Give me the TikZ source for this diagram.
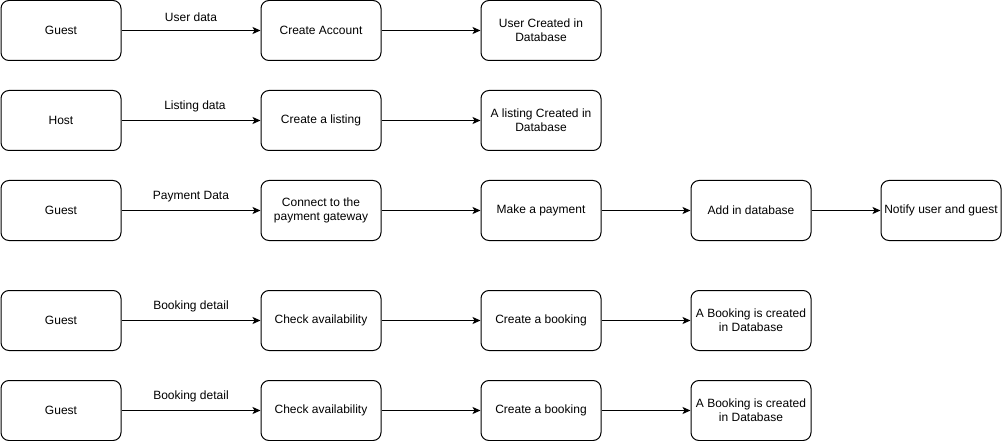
\documentclass[tikz,border=0pt]{standalone}
\usepackage{fontspec}
\setmainfont{Liberation Sans}
\usetikzlibrary{arrows.meta}
\begin{document}
\begin{tikzpicture}[x=1pt,y=-1pt,
  box/.style={draw,line width=1pt,rounded corners=8pt,minimum width=120pt,minimum height=60pt,inner sep=1pt,align=center,font=\fontsize{12}{14}\selectfont},
  arr/.style={line width=1pt,-{Stealth[length=8pt,width=7pt,inset=2pt]}},
  lab/.style={font=\fontsize{12}{14}\selectfont,inner sep=0pt}]
\useasboundingbox (0,0) rectangle (1002,441);
% row 1
\node[box] (g1) at (61,30.5) {Guest};
\node[box] (ca) at (321,30.5) {Create Account};
\node[box] (uc) at (541,30.5) {User Created in\\Database};
\draw[arr] (g1) -- node[lab,above=8pt] {User data} (ca);
\draw[arr] (ca) -- (uc);
% row 2
\node[box] (h2) at (61,120.5) {Host};
\node[box] (cl) at (321,120.5) {Create a listing};
\node[box] (lc) at (541,120.5) {A listing Created in\\Database};
\draw[arr] (h2) -- node[lab,above=8pt,xshift=4pt] {Listing data} (cl);
\draw[arr] (cl) -- (lc);
% row 3
\node[box] (g3) at (61,210.5) {Guest};
\node[box] (cp) at (321,210.5) {Connect to the\\payment gateway};
\node[box] (mp) at (541,210.5) {Make a payment};
\node[box] (ad) at (751,210.5) {Add in database};
\node[box] (nu) at (941,210.5) {Notify user and guest};
\draw[arr] (g3) -- node[lab,above=8pt] {Payment Data} (cp);
\draw[arr] (cp) -- (mp);
\draw[arr] (mp) -- (ad);
\draw[arr] (ad) -- (nu);
% row 4
\node[box] (g4) at (61,320.5) {Guest};
\node[box] (ch4) at (321,320.5) {Check availability};
\node[box] (cb4) at (541,320.5) {Create a booking};
\node[box] (bc4) at (751,320.5) {A Booking is created\\in Database};
\draw[arr] (g4) -- node[lab,above=8pt] {Booking detail} (ch4);
\draw[arr] (ch4) -- (cb4);
\draw[arr] (cb4) -- (bc4);
% row 5
\node[box] (g5) at (61,410.5) {Guest};
\node[box] (ch5) at (321,410.5) {Check availability};
\node[box] (cb5) at (541,410.5) {Create a booking};
\node[box] (bc5) at (751,410.5) {A Booking is created\\in Database};
\draw[arr] (g5) -- node[lab,above=8pt] {Booking detail} (ch5);
\draw[arr] (ch5) -- (cb5);
\draw[arr] (cb5) -- (bc5);
\end{tikzpicture}
\end{document}
